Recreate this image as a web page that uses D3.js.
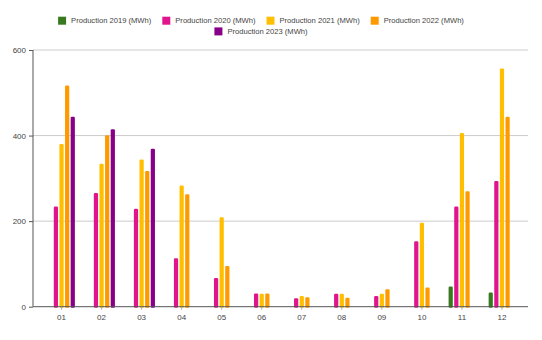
<!DOCTYPE html>
<html>
<head>
<meta charset="utf-8">
<script src="https://cdn.jsdelivr.net/npm/d3@7"></script>
<style>
	body { margin: 0; background: #fff; }
	svg { display: block; font-family: "Liberation Sans", Arial, sans-serif; }
</style>
</head>
<body>
<div id="chart"></div>
<script>
var months = ["01","02","03","04","05","06","07","08","09","10","11","12"];
var seriesNames = ["Production 2019 (MWh)","Production 2020 (MWh)","Production 2021 (MWh)","Production 2022 (MWh)","Production 2023 (MWh)"];
var seriesColors = ["#3a7a1f","#e0148c","#ffbf00","#ff9900","#880088"];

// null = no bar for that month
var prod2019 = [null,null,null,null,null,null,null,null,null,null,47,33];
var prod2020 = [234,266,229,113,67,31,20,30,25,153,234,294];
var prod2021 = [380,334,344,283,209,30,25,30,30,196,406,557];
var prod2022 = [517,401,317,263,95,31,22,21,41,45,270,444];
var prod2023 = [444,415,369,null,null,null,null,null,null,null,null,null];
var yTicks = [0,200,400,600];

var allSeries = [prod2019, prod2020, prod2021, prod2022, prod2023];

var W = 542, H = 340;
var svg = d3.select("#chart").append("svg")
	.attr("width", W)
	.attr("height", H);

var plotLeft = 33, plotRight = 528;

var y = d3.scaleLinear()
	.domain([0, 600])
	.range([306.7, 50]);

var x = d3.scaleBand()
	.domain(months)
	.range([41.5, 522])
	.paddingInner(0.333)
	.paddingOuter(0.1665);

var xs = d3.scaleBand()
	.domain(d3.range(seriesNames.length))
	.range([0, x.bandwidth()])
	.paddingInner(0.25);

// gridlines
svg.append("g")
	.selectAll("line")
	.data(yTicks.filter(function(d){return d > 0;}))
	.enter()
	.append("line")
	.attr("x1", plotLeft)
	.attr("x2", plotRight)
	.attr("y1", function(d){return y(d);})
	.attr("y2", function(d){return y(d);})
	.attr("stroke", "#cccccc")
	.attr("stroke-width", 1);

// bars
var cells = [];
months.forEach(function(m, i){
	allSeries.forEach(function(s, k){
		if (s[i] != null) cells.push({month: m, k: k, v: s[i]});
	});
});

svg.append("g")
	.selectAll("rect")
	.data(cells)
	.enter()
	.append("rect")
	.attr("x", function(d){return x(d.month) + xs(d.k);})
	.attr("y", function(d){return y(d.v);})
	.attr("width", xs.bandwidth())
	.attr("height", function(d){return y(0) - y(d.v) + 1;})
	.attr("rx", 1.2)
	.attr("fill", function(d){return seriesColors[d.k];});

// y axis
var yAxis = svg.append("g")
	.attr("transform", "translate(" + plotLeft + ",0)")
	.call(d3.axisLeft(y).tickValues(yTicks).tickSize(4).tickPadding(3).tickFormat(d3.format("d")));
yAxis.select(".domain").attr("stroke", "#555").attr("d", "M0," + y(600) + "V" + y(0));
yAxis.selectAll(".tick line").attr("stroke", "#555");
yAxis.selectAll("text").attr("font-size", 8).attr("fill", "#444").attr("font-family", "Liberation Sans, Arial, sans-serif");

// x axis
var xAxis = svg.append("g")
	.attr("transform", "translate(0," + y(0) + ")")
	.call(d3.axisBottom(x).tickSize(3).tickPadding(5));
xAxis.select(".domain").attr("stroke", "#555").attr("d", "M" + plotLeft + ",0H" + plotRight);
xAxis.selectAll(".tick line").attr("stroke", "#aaa");
xAxis.selectAll("text").attr("font-size", 8).attr("fill", "#444").attr("font-family", "Liberation Sans, Arial, sans-serif");

// legend, centered, wrapping
var legend = svg.append("g");
var items = legend.selectAll(".item")
	.data(seriesNames)
	.enter()
	.append("g")
	.attr("class", "item");
items.append("rect")
	.attr("width", 8)
	.attr("height", 8)
	.attr("y", -4)
	.attr("fill", function(d, i){return seriesColors[i];});
items.append("text")
	.attr("x", 13)
	.attr("dy", "0.35em")
	.attr("font-size", 7.6)
	.attr("fill", "#444")
	.text(function(d){return d;});

var maxRow = 420, gap = 11, rows = [[]], rowW = [0];
items.each(function(d, i){
	var w = 13 + this.querySelector("text").getComputedTextLength();
	var r = rows.length - 1;
	var need = rowW[r] + (rows[r].length ? gap : 0) + w;
	if (rows[r].length && need > maxRow){
		rows.push([]); rowW.push(0); r++;
		need = w;
	}
	rows[r].push({node: this, w: w});
	rowW[r] = need;
});
var centerX = 261;
rows.forEach(function(row, r){
	var cx = centerX - rowW[r] / 2;
	row.forEach(function(it){
		d3.select(it.node).attr("transform", "translate(" + cx + "," + (20.7 + r * 10.7) + ")");
		cx += it.w + gap;
	});
});
</script>
</body>
</html>
